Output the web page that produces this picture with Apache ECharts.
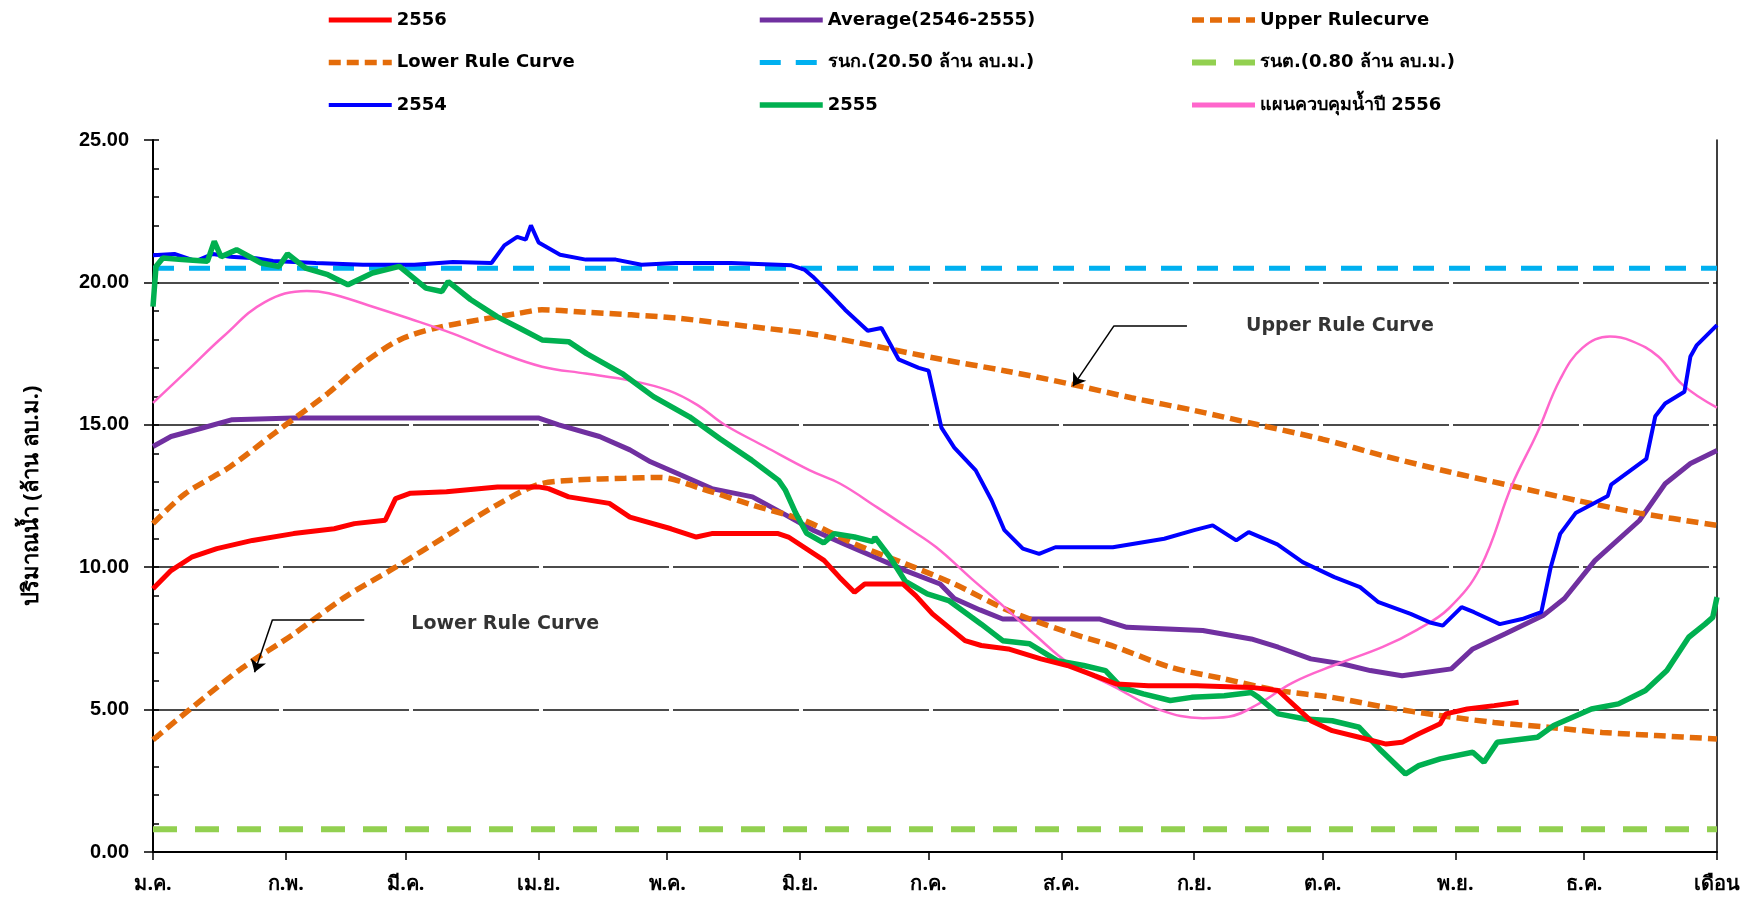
<!DOCTYPE html>
<html>
<head>
<meta charset="utf-8">
<script src="https://cdn.jsdelivr.net/npm/echarts@6/dist/echarts.min.js"></script>
<style>
html,body{margin:0;padding:0;background:#fff;}
#chart{width:1747px;height:906px;}
</style>
</head>
<body>
<div id="chart"></div>
<script>
// ---- tick labels (x axis: day of year where each month starts) ----
var monthDays   = [0, 31, 59, 90, 120, 151, 181, 212, 243, 273, 304, 334, 365];
var monthLabels = ['ม.ค.', 'ก.พ.', 'มี.ค.', 'เม.ย.', 'พ.ค.', 'มิ.ย.', 'ก.ค.', 'ส.ค.', 'ก.ย.', 'ต.ค.', 'พ.ย.', 'ธ.ค.', 'เดือน'];
var yTicks = [0, 5, 10, 15, 20, 25];

// ---- series names ----
var names = {
  y2556: '2556',
  avg: 'Average(2546-2555)',
  upper: 'Upper Rulecurve',
  lower: 'Lower Rule Curve',
  rnk: 'รนก.(20.50 ล้าน ลบ.ม.)',
  rnt: 'รนต.(0.80 ล้าน ลบ.ม.)',
  y2554: '2554',
  y2555: '2555',
  plan: 'แผนควบคุมน้ำปี 2556'
};

// ---- series values: [day of year, volume (million m3)] ----
var data2556 = [[0,9.24],[4.2,9.88],[9,10.35],[14.9,10.65],[23.2,10.94],[32.8,11.18],[42.3,11.35],[47,11.53],[54.2,11.65],[56.6,12.41],[60.1,12.6],[68.5,12.65],[80.4,12.82],[89.9,12.82],[92.3,12.76],[97,12.47],[106.5,12.24],[111.3,11.76],[120.9,11.35],[126.8,11.06],[130.4,11.18],[145.9,11.18],[148.3,11.06],[156.6,10.24],[160.2,9.65],[163.7,9.12],[166.1,9.41],[175,9.41],[178,9.0],[181.9,8.36],[189.5,7.42],[193.3,7.25],[199.6,7.13],[207.2,6.78],[213.4,6.55],[219.7,6.19],[224.8,5.9],[232.3,5.84],[243.7,5.84],[256.3,5.78],[262.6,5.67],[265.1,5.32],[270.2,4.61],[275.2,4.26],[281.5,4.03],[287.8,3.79],[291.5,3.85],[295.4,4.15],[300.4,4.5],[301.7,4.85],[306.7,5.02],[313,5.14],[318.7,5.26]];

var dataAvg = [[0,14.24],[4.2,14.59],[11.3,14.88],[18.5,15.18],[32.8,15.24],[56.6,15.24],[89.9,15.24],[94.7,15.0],[104.2,14.59],[111.3,14.12],[116.1,13.7],[123.2,13.24],[130.4,12.76],[139.9,12.47],[147.1,11.88],[154.2,11.29],[161.3,10.82],[168.5,10.35],[175.6,9.88],[183.7,9.41],[187,8.9],[193,8.5],[198.3,8.18],[205.9,8.18],[221,8.18],[227.3,7.89],[245,7.78],[256.3,7.48],[262.6,7.19],[270.2,6.78],[277.7,6.6],[284.1,6.37],[291.5,6.19],[303,6.43],[308,7.13],[315.6,7.66],[324.4,8.3],[329.4,8.9],[336.5,10.23],[346.9,11.64],[352.9,12.93],[358.8,13.64],[365,14.1]];

var dataUpper = [[0,11.53],[7.5,12.58],[17.9,13.52],[28.3,14.7],[33.5,15.28],[40.8,16.1],[49.1,17.16],[57.5,17.98],[65.8,18.39],[76.2,18.69],[85.6,18.92],[90.8,19.04],[101.2,18.95],[111.6,18.86],[122,18.75],[132.4,18.57],[142.9,18.39],[153.3,18.2],[169,17.75],[183.9,17.3],[198.7,16.9],[213.5,16.45],[228.3,15.95],[243.1,15.5],[257.9,15.0],[272.8,14.5],[287.5,13.9],[302.4,13.35],[317.2,12.85],[332.1,12.35],[346.9,11.9],[365,11.47]];

var dataLower = [[0,3.94],[9,5.06],[20.9,6.47],[32.8,7.65],[44.7,8.94],[56.6,10.0],[68.5,11.1],[80.4,12.2],[89.9,12.9],[98.3,13.06],[110.2,13.12],[118.4,13.15],[128,12.76],[139.9,12.18],[151.8,11.65],[163.7,10.82],[175.6,10.12],[187,9.41],[199.6,8.48],[212.2,7.78],[224.8,7.19],[237.4,6.49],[250,6.08],[262.6,5.67],[275.2,5.43],[287.8,5.08],[300.4,4.79],[313,4.55],[325.6,4.38],[338.2,4.2],[350.8,4.09],[365,3.97]];

var dataRnk = [[0,20.5],[365,20.5]];
var dataRnt = [[0,0.8],[365,0.8]];

var data2554 = [[0,20.95],[5,21.0],[10,20.75],[14,21.0],[18,20.9],[24,20.85],[28,20.75],[38,20.68],[49,20.62],[61,20.62],[70,20.72],[79,20.68],[82,21.3],[85,21.6],[87,21.5],[88.2,22.0],[90,21.4],[95,20.97],[101,20.8],[108,20.8],[114,20.62],[122,20.68],[135,20.68],[149,20.6],[152,20.45],[154,20.2],[158,19.6],[161.5,19.04],[166.8,18.3],[170,18.4],[174,17.3],[178.7,17.0],[181,16.9],[184,14.9],[187,14.2],[192,13.4],[195.7,12.35],[198.7,11.3],[203,10.65],[206.8,10.47],[210.6,10.7],[224,10.7],[236,11.0],[243,11.3],[247.3,11.47],[252.8,10.94],[255.7,11.23],[262.4,10.8],[268.3,10.18],[275.7,9.65],[281.7,9.3],[286,8.77],[293.5,8.36],[298,8.06],[301,7.95],[305.4,8.6],[308.3,8.42],[314.3,8.0],[319.5,8.18],[324,8.42],[326.2,10.0],[328.4,11.17],[332,11.9],[339.5,12.5],[340.3,12.9],[348.5,13.8],[350.6,15.3],[352.9,15.75],[357.4,16.16],[358.8,17.4],[360.3,17.8],[365,18.5]];

var data2555 = [[0,19.15],[0.7,20.56],[2.3,20.86],[6.8,20.8],[12.7,20.74],[14.3,21.44],[15.9,20.9],[19.5,21.15],[25.2,20.68],[29.4,20.56],[31.4,21.0],[35.6,20.5],[40.8,20.27],[45.5,19.92],[51.2,20.33],[57.5,20.56],[63.7,19.8],[67.4,19.68],[68.9,20.03],[74.1,19.4],[80.3,18.8],[85.6,18.39],[90.8,17.98],[97,17.92],[101.2,17.5],[109.5,16.8],[116.8,15.99],[125.2,15.28],[132.4,14.5],[139.7,13.76],[146,13.05],[147.6,12.7],[150,11.9],[152.5,11.2],[156.5,10.85],[159,11.18],[163.7,11.06],[168,10.9],[168.5,11.05],[172,10.35],[175.6,9.5],[180.7,9.06],[185.7,8.83],[193.3,8.0],[198.3,7.42],[204.6,7.31],[211,6.72],[217.2,6.55],[222.3,6.37],[226,5.78],[231.1,5.55],[237.4,5.32],[242.4,5.43],[250,5.49],[256.3,5.6],[258,5.43],[262.6,4.85],[268.9,4.67],[275.2,4.61],[281.5,4.38],[286.6,3.56],[292.3,2.74],[295.4,3.03],[300.4,3.27],[308,3.5],[310.6,3.15],[313.7,3.85],[323.1,4.03],[326.9,4.44],[335.7,5.02],[342,5.2],[348.3,5.67],[353.3,6.37],[358.4,7.54],[362.2,8.0],[364,8.24],[365,8.95]];

var dataPlan = [[0,15.77],[8,16.9],[16.4,18.1],[26,19.3],[35.9,19.7],[41,19.62],[50.2,19.2],[59.6,18.74],[70,18.2],[80.3,17.57],[90.8,17.04],[101,16.8],[111.6,16.55],[120.4,16.2],[127,15.7],[133.4,15.0],[142.9,14.23],[153.3,13.4],[160.4,12.93],[169,12.1],[176,11.4],[182.8,10.7],[191,9.6],[198.7,8.6],[206,7.6],[214,6.6],[224.4,5.8],[234.8,5.0],[245,4.7],[251,4.75],[258,5.2],[266,5.95],[276.4,6.6],[287,7.2],[295,7.8],[302.4,8.55],[309.8,10.0],[317.2,12.9],[323,14.7],[328.4,16.6],[333.6,17.7],[340,18.1],[345,17.95],[351.3,17.4],[357,16.4],[365,15.6]];

// ---- annotations (data coordinates) ----
var upperNote = {text: 'Upper Rule Curve', at: [277, 18.48], line: [[241.3,18.48],[224.3,18.48]], arrow: [[224.3,18.48],[214.7,16.36]]};
var lowerNote = {text: 'Lower Rule Curve', at: [82.2, 8.02], line: [[49.3,8.16],[27.9,8.16]], arrow: [[27.9,8.16],[23.7,6.31]]};

var chart = echarts.init(document.getElementById('chart'));

var legendText = {fontFamily: 'DejaVu Sans', fontWeight: 'bold', fontSize: 18, color: '#000', lineHeight: 18};
function makeLegend(left, items) {
  return {orient: 'vertical', left: left, top: 6, itemWidth: 63, itemHeight: 14, itemGap: 24.5,
          textStyle: legendText, data: items, selectedMode: false,
          itemStyle: {opacity: 0, borderWidth: 0},
          lineStyle: {width: 'inherit'}};
}

function lineSeries(name, data, color, width, dash, z, smooth) {
  return {
    name: name, type: 'line', data: data, showSymbol: false, symbol: 'none',
    smooth: smooth || false, z: z,
    lineStyle: {color: color, width: width, type: dash || 'solid', cap: 'butt'},
    itemStyle: {color: color},
    emphasis: {disabled: true}
  };
}

function seg(a, b, arrow) {
  return [{coord: a, symbol: 'none'}, {coord: b, symbol: arrow ? 'arrow' : 'none'}];
}

var option = {
  animation: false,
  backgroundColor: '#fff',
  legend: [
    makeLegend(321, [names.y2556, names.lower, names.y2554]),
    makeLegend(752, [names.avg, names.rnk, names.y2555]),
    makeLegend(1184, [names.upper, names.rnt, {name: names.plan, lineStyle: {width: 5}}])
  ],
  grid: {left: 153, right: 30, top: 140, bottom: 54, containLabel: false},
  xAxis: {
    type: 'value', min: 0, max: 365,
    axisLine: {show: true, lineStyle: {color: '#000', width: 2}},
    axisTick: {show: true, customValues: monthDays, length: 8, lineStyle: {color: '#000', width: 1.5}},
    axisLabel: {
      show: true, customValues: monthDays, margin: 22,
      formatter: function (v) { var i = monthDays.indexOf(v); return i >= 0 ? monthLabels[i] : ''; },
      fontFamily: 'Noto Sans, DejaVu Sans, sans-serif', fontWeight: 'bold', fontSize: 20, color: '#000'
    },
    splitLine: {show: false}
  },
  yAxis: [
    {
      type: 'value', min: 0, max: 25, interval: 5, position: 'left',
      name: 'ปริมาณน้ำ (ล้าน ลบ.ม.)', nameLocation: 'middle', nameGap: 110, nameRotate: 90,
      nameTextStyle: {fontFamily: 'Noto Sans, DejaVu Sans, sans-serif', fontWeight: 'bold', fontSize: 22, color: '#000'},
      axisLine: {show: true, lineStyle: {color: '#000', width: 2}},
      axisTick: {show: true, length: 9, lineStyle: {color: '#000', width: 1.5}},
      axisLabel: {
        margin: 24, formatter: function (v) { return v.toFixed(2); },
        fontFamily: 'Liberation Sans', fontWeight: 'bold', fontSize: 20, color: '#000'
      },
      splitLine: {show: true, showMinLine: false, showMaxLine: false,
                  lineStyle: {color: '#111', width: 1.6, type: [126, 4]}}
    },
    {
      type: 'value', min: 0, max: 25, interval: 1, position: 'left',
      axisLine: {show: false}, axisLabel: {show: false}, splitLine: {show: false},
      axisTick: {show: true, inside: true, length: 6, lineStyle: {color: '#000', width: 1.5}}
    },
    {
      type: 'value', min: 0, max: 25, interval: 5, position: 'right',
      axisLine: {show: true, lineStyle: {color: '#000', width: 1.5}},
      axisTick: {show: false}, axisLabel: {show: false}, splitLine: {show: false}
    }
  ],
  series: [
    lineSeries(names.rnk, dataRnk, '#00b0f0', 5, [21, 15], 2),
    lineSeries(names.rnt, dataRnt, '#92d050', 6, [24, 18], 2),
    lineSeries(names.avg, dataAvg, '#7030a0', 5, null, 3),
    lineSeries(names.upper, dataUpper, '#e46c0a', 5.5, [12, 6], 4, 0.3),
    lineSeries(names.lower, dataLower, '#e46c0a', 5.5, [12, 6], 4, 0.3),
    lineSeries(names.plan, dataPlan, '#ff66cc', 2.5, null, 5, 0.4),
    lineSeries(names.y2554, data2554, '#0000ff', 4, null, 6),
    lineSeries(names.y2555, data2555, '#00b050', 5.5, null, 7),
    lineSeries(names.y2556, data2556, '#ff0000', 5, null, 8),
    {
      name: 'annotations', type: 'scatter', z: 10, symbolSize: 0, silent: true,
      data: [{value: upperNote.at, name: upperNote.text}, {value: lowerNote.at, name: lowerNote.text}],
      label: {show: true, position: 'inside', formatter: '{b}', color: '#000',
              fontFamily: 'DejaVu Sans', fontWeight: 'bold', fontSize: 19},
      markLine: {
        silent: true, symbolSize: 12, label: {show: false},
        lineStyle: {color: '#000', width: 1.5, type: 'solid'},
        data: [
          seg(upperNote.line[0], upperNote.line[1], false),
          seg(upperNote.arrow[0], upperNote.arrow[1], true),
          seg(lowerNote.line[0], lowerNote.line[1], false),
          seg(lowerNote.arrow[0], lowerNote.arrow[1], true)
        ]
      }
    }
  ]
};
chart.setOption(option);
</script>
</body>
</html>
